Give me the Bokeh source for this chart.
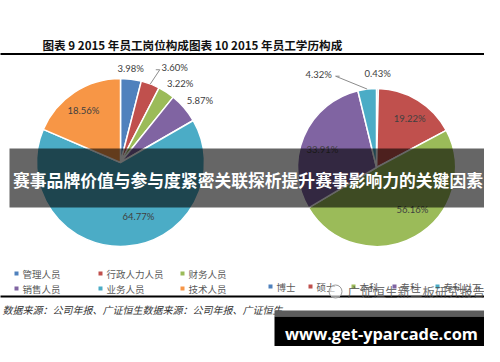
import math
from bokeh.plotting import figure
from bokeh.models import Range1d
from bokeh.core.properties import value
from bokeh.embed import file_html
from bokeh.resources import INLINE

# ---------------- data ----------------
title_text = "图表 9 2015 年员工岗位构成图表 10 2015 年员工学历构成"
post_labels = ["管理人员", "行政人力人员", "财务人员", "销售人员", "业务人员", "技术人员"]
post_values = [3.98, 3.60, 3.22, 5.87, 64.77, 18.56]
edu_labels = ["博士", "硕士", "本科", "专科", "专科以下"]
edu_values = [0.43, 19.22, 56.16, 33.91, 4.32]
source_text = "数据来源：公司年报、广证恒生数据来源：公司年报、广证恒生"
banner_text = "赛事品牌价值与参与度紧密关联探析提升赛事影响力的关键因素"
watermark_text = "广证恒生新三板研究报告"
site_text = "www.get-yparcade.com"

# ---------------- styles / layout ----------------
post_colors = ["#4F81BD", "#C0504D", "#9BBB59", "#8064A2", "#4BACC6", "#F79646"]
edu_colors = ["#4F81BD", "#C0504D", "#9BBB59", "#8064A2", "#4BACC6"]
CJK = value("Noto Sans CJK SC")
NUM = value("Lato")

W, H = 484, 346
OX, OY = 3, 4
def Y(v):
    return 400 - v

p = figure(width=W, height=H, output_backend="svg", toolbar_location=None,
           x_range=Range1d(OX, OX + W), y_range=Range1d(Y(OY + H), Y(OY)),
           x_axis_type=None, y_axis_type=None, min_border=0)
p.grid.visible = False
p.outline_line_color = None
p.background_fill_color = "white"
p.border_fill_color = "white"

# title and rules
p.text(x=[45], y=[Y(48)], text=[title_text], text_font=CJK, text_font_size=value("11.6px"),
       text_font_style="bold", text_color="#111111", text_align="left", text_baseline="middle")
p.segment(x0=[0, 0], x1=[500, 500], y0=[Y(57.5), Y(300)], y1=[Y(57.5), Y(300)],
          line_color="black", line_width=2)


def draw_pie(values, colors, cx, cy, r, offsets, leaders):
    total = float(sum(values))
    cum = 0.0
    mids = []
    starts, ends = [], []
    for v in values:
        s = cum / total
        e = (cum + v) / total
        starts.append(math.pi / 2 - 2 * math.pi * e)
        ends.append(math.pi / 2 - 2 * math.pi * s)
        mids.append(2 * math.pi * (s + e) / 2)
        cum += v
    n = len(values)
    p.wedge(x=[cx] * n, y=[Y(cy)] * n, radius=r, start_angle=starts, end_angle=ends,
            fill_color=colors, line_color="white", line_width=1.5)
    lx, ly, txt = [], [], []
    for i, v in enumerate(values):
        da, rf = offsets[i]
        phi = mids[i] + math.radians(da)
        lx.append(cx + rf * r * math.sin(phi))
        ly.append(Y(cy) + rf * r * math.cos(phi))
        txt.append(f"{v:.2f}%")
    for i, dx, dy in leaders:
        ex = cx + r * math.sin(mids[i])
        ey = Y(cy) + r * math.cos(mids[i])
        sx, sy = lx[i] + dx, ly[i] + dy
        p.line(x=[sx + (4 if dx > 0 else -4), sx, ex], y=[sy, sy, ey],
               line_color="#8c8c8c", line_width=1)
    p.text(x=lx, y=ly, text=txt, text_font=NUM, text_font_size=value("9.5px"),
           text_color="#404040", text_align="center", text_baseline="middle")


draw_pie(post_values, post_colors, 123, 166, 84,
         [(-1, 1.12), (9, 1.30), (4, 1.18), (2.6, 1.20), (-15, 0.68), (-2, 0.76)],
         [(1, -15, -2)])
draw_pie(edu_values, edu_colors, 379, 171, 79,
         [(0, 1.19), (2.3, 0.75), (-11.3, 0.70), (-4.4, 0.72), (-25, 1.39)],
         [(4, 17, -2)])

# legends
lcols = [19, 103, 185]
lrows = [277, 292]
mx, my = [], []
for i, lab in enumerate(post_labels):
    mx.append(lcols[i % 3])
    my.append(Y(lrows[i // 3]))
p.scatter(x=mx, y=my, marker="square", size=4, fill_color=post_colors, line_color=None)
p.text(x=[v + 6 for v in mx], y=my, text=post_labels, text_font=CJK,
       text_font_size=value("9.5px"), text_color="#595959", text_align="left",
       text_baseline="middle")

rcols = [273, 313, 356, 397, 440]
rx = rcols[:len(edu_labels)]
ry = [Y(290)] * len(edu_labels)
p.scatter(x=rx, y=ry, marker="square", size=4, fill_color=edu_colors, line_color=None)
p.text(x=[v + 6 for v in rx], y=ry, text=edu_labels, text_font=CJK,
       text_font_size=value("9.5px"), text_color="#595959", text_align="left",
       text_baseline="middle")

# source
p.text(x=[5], y=[Y(313)], text=[source_text], text_font=CJK, text_font_size=value("10px"),
       text_font_style="italic", text_color="#333333", text_align="left", text_baseline="middle")

# watermark
p.scatter(x=[338], y=[Y(295)], marker="circle", size=13, fill_color="white", fill_alpha=0.6,
          line_color="#9a9a9a", line_width=1)
p.text(x=[350], y=[Y(295)], text=[watermark_text], text_font=CJK, text_font_size=value("12.5px"),
       text_color="#4a4a4a", text_alpha=0.8, text_align="left", text_baseline="middle")

# banner
p.quad(left=[12], right=[489], top=[Y(152)], bottom=[Y(211)], fill_color="black",
       fill_alpha=0.6, line_color=None)
p.text(x=[250.5], y=[Y(183)], text=[banner_text], text_font=CJK, text_font_size=value("16.8px"),
       text_font_style="bold", text_color="white", text_align="center", text_baseline="middle")

# site box
p.quad(left=[277], right=[491], top=[Y(314)], bottom=[Y(320)], fill_color="#5c5c5c", line_color=None)
p.quad(left=[277], right=[491], top=[Y(320)], bottom=[Y(353)], fill_color="black", line_color=None)
p.text(x=[384], y=[Y(337)], text=[site_text], text_font=value("Open Sans"),
       text_font_size=value("16.4px"), text_font_style="bold", text_color="white",
       text_align="center", text_baseline="middle")

open("out.html", "w").write(file_html(p, INLINE))
